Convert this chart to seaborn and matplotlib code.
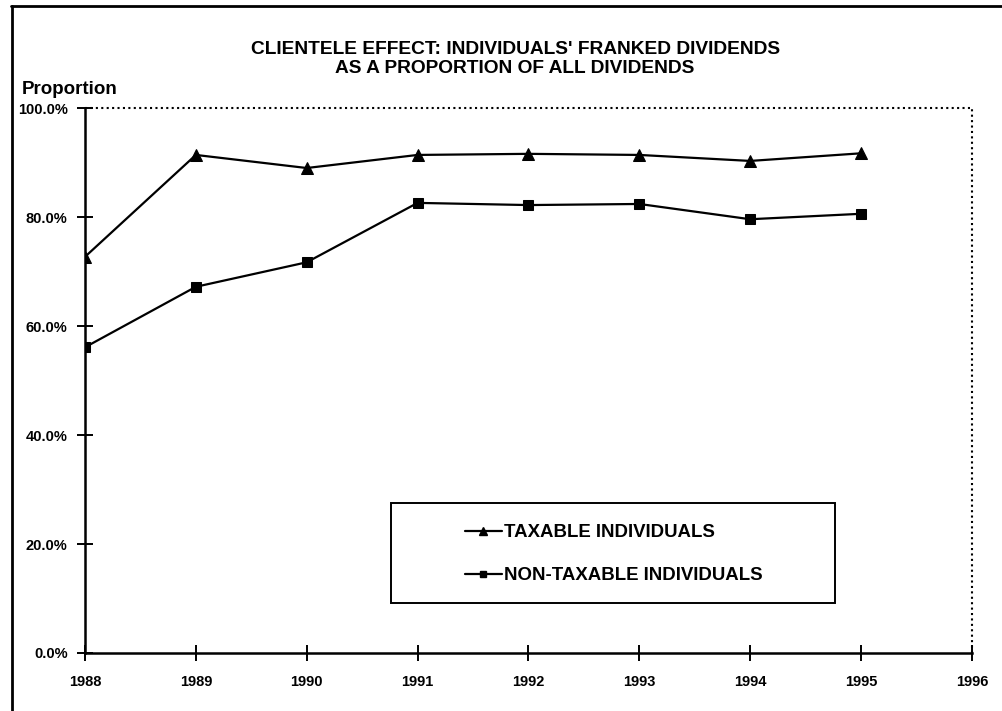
import numpy as np
import pandas as pd
import seaborn as sns
import matplotlib.pyplot as plt
from matplotlib.lines import Line2D
from matplotlib.patches import Rectangle
from matplotlib.ticker import FuncFormatter

years = [1988, 1989, 1990, 1991, 1992, 1993, 1994, 1995]
taxable = [72.7, 91.4, 89.0, 91.4, 91.6, 91.4, 90.3, 91.7]
non_taxable = [56.1, 67.2, 71.7, 82.6, 82.2, 82.4, 79.6, 80.6]
labels = ['TAXABLE INDIVIDUALS', 'NON-TAXABLE INDIVIDUALS']

df = pd.DataFrame({'year': years, 'tax': taxable, 'nontax': non_taxable})

sns.set_theme(style='white')
plt.rcParams['font.family'] = ['Liberation Sans', 'DejaVu Sans']
plt.rcParams['font.weight'] = 'bold'
plt.rcParams['text.color'] = 'black'

fig = plt.figure(figsize=(10.02, 7.11), dpi=100)
ax = fig.add_axes([0.0848, 0.0816, 0.970 - 0.0848, 0.848 - 0.0816])

sns.lineplot(data=df, x='year', y='tax', ax=ax, color='black', lw=1.6,
             marker='^', markersize=8, markeredgecolor='black')
sns.lineplot(data=df, x='year', y='nontax', ax=ax, color='black', lw=1.6,
             marker='s', markersize=6.5, markeredgecolor='black')

ax.set_xlim(1988, 1996)
ax.set_ylim(0, 100)
ax.set_xticks(range(1988, 1997))
ax.set_yticks(np.arange(0, 101, 20))
ax.yaxis.set_major_formatter(FuncFormatter(lambda v, p: f'{v:.1f}%'))
ax.tick_params(bottom=True, left=True, direction='inout', length=11,
               width=1.4, colors='black', labelcolor='black',
               labelsize=10.5, pad=7)
ax.tick_params(axis='x', pad=10)
for t in ax.get_xticklabels() + ax.get_yticklabels():
    t.set_fontweight('bold')
ax.set_xlabel('')
ax.set_ylabel('')

for s in ['left', 'bottom']:
    ax.spines[s].set_color('black')
    ax.spines[s].set_linewidth(1.8)
for s in ['top', 'right']:
    ax.spines[s].set_color('black')
    ax.spines[s].set_linewidth(1.5)
    ax.spines[s].set_linestyle((0, (1, 1.6)))
    ax.spines[s].set_capstyle('butt')

ax.set_title("CLIENTELE EFFECT: INDIVIDUALS' FRANKED DIVIDENDS\nAS A PROPORTION OF ALL DIVIDENDS",
             fontsize=13.8, fontweight='bold', color='black', pad=25,
             linespacing=1.2, x=0.485)
fig.text(0.022, 0.868, 'Proportion', fontsize=13.5, fontweight='bold',
         color='black')

# legend box drawn as a separate rectangle (wider than the entries)
ax.add_patch(Rectangle((0.3454, 0.0911), 0.4998, 0.1844, transform=ax.transAxes,
                       fill=False, edgecolor='black', lw=1.4, zorder=5))
handles = [Line2D([], [], color='black', lw=1.6, marker='^', markersize=6),
           Line2D([], [], color='black', lw=1.6, marker='s', markersize=5)]
leg = ax.legend(handles, labels, loc='upper left',
                bbox_to_anchor=(0.428, 0.236), frameon=False,
                prop={'size': 13.4, 'weight': 'bold'}, handlelength=2.0,
                handletextpad=0.1, labelspacing=1.4, borderpad=0,
                borderaxespad=0)
for t in leg.get_texts():
    t.set_color('black')

# outer frame (top and left edges visible)
fig.add_artist(Line2D([0.011, 1.0], [0.991, 0.991], color='black', lw=2,
                      transform=fig.transFigure))
fig.add_artist(Line2D([0.012, 0.012], [0.0, 0.991], color='black', lw=2,
                      transform=fig.transFigure))

fig.savefig('out.png', dpi=100)
